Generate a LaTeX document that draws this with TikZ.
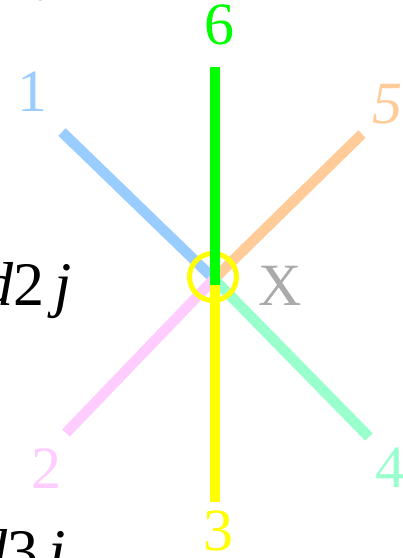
\documentclass[tikz,border=0pt]{standalone}
\usepackage{fontspec}
\setmainfont{Liberation Serif}
\definecolor{cblue}{HTML}{99CCFF}
\definecolor{cpeach}{HTML}{FFCC99}
\definecolor{cpink}{HTML}{FFCCFF}
\definecolor{cmint}{HTML}{99FFCC}
\definecolor{cgreen}{HTML}{00FF00}
\definecolor{cyellow}{HTML}{FFFF00}
\definecolor{cgray}{HTML}{AAAAAA}
\begin{document}
\begin{tikzpicture}[x=1pt,y=-1pt,
  spoke/.style={line width=10.5pt},
  lbl/.style={inner sep=0pt,font=\fontsize{60}{60}\selectfont},
  side/.style={inner sep=0pt,anchor=base east,font=\fontsize{62}{62}\selectfont}]
\useasboundingbox (0,0) rectangle (403,558);
\clip (0,0) rectangle (403,558);
\coordinate (c) at (214,279);
\coordinate (e1) at (62,132);
\coordinate (e2) at (66,433);
\coordinate (e3) at (215,502);
\coordinate (e4) at (369,437);
\coordinate (e5) at (362,134);
\coordinate (e6) at (215,67);
\coordinate (g6) at (215,285);
\draw[spoke,cblue] (e1) -- (c);
\draw[spoke,cpink] (e2) -- (c);
\draw[spoke,cpeach] (e5) -- (c);
\draw[spoke,cmint] (e4) -- (c);
\draw[spoke,cyellow] (215,279) -- (e3);
\draw[line width=5pt,cyellow] (213,277) circle[radius=23.5];
\draw[spoke,cgreen] (e6) -- (g6);
\node[lbl,cgreen] (l6) at (219,25) {6};
\node[lbl,cblue] (l1) at (32,92) {1};
\node[lbl,cpeach] (l5) at (387,104) {\textit{5}};
\node[lbl,cpink] (l2) at (46,469) {2};
\node[lbl,cmint] (l4) at (390,468) {4};
\node[lbl,cyellow] (l3) at (218,531) {3};
\node[lbl,cgray] (x) at (280,286) {X};
\node[side] (d1) at (60,-13) {\textit{d}1\,\textit{j}};
\node[side] (d2) at (72,305) {\textit{d}2\,\textit{j}};
\node[side] (d3) at (66,572) {\textit{d}3\,\textit{j}};
\end{tikzpicture}
\end{document}
